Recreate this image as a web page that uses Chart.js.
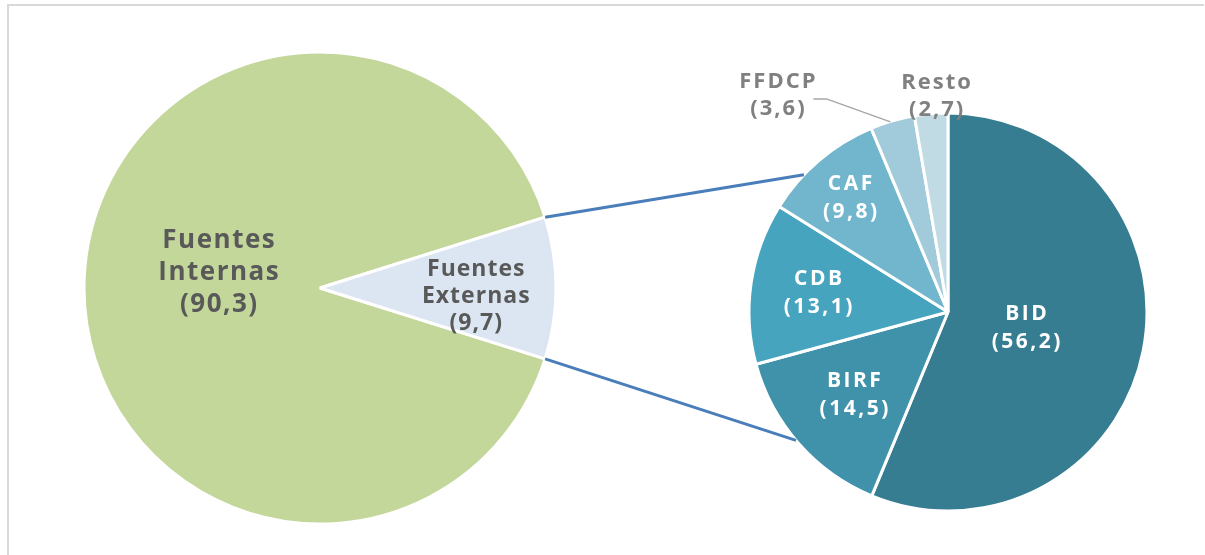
<!DOCTYPE html>
<html>
<head>
<meta charset="utf-8">
<script src="https://cdn.jsdelivr.net/npm/chart.js@4/dist/chart.umd.min.js"></script>
<style>
  html, body { margin: 0; padding: 0; background: #fff; }
  #wrap { position: relative; width: 1205px; height: 555px; overflow: hidden; }
  #marco { position: absolute; left: 7px; top: 4px; right: 1px; bottom: -5px;
           border-top: 2px solid #d9d9d9; border-left: 2px solid #d9d9d9; }
  canvas { position: absolute; left: 0; top: 0; }
</style>
</head>
<body>
<div id="wrap">
  <div id="marco"></div>
  <canvas id="pieFuentes" width="1205" height="555"></canvas>
  <canvas id="pieExternas" width="1205" height="555"></canvas>
</div>
<script>
// Fuentes de financiamiento (%)
const fuentesLabels = ["Fuentes Internas", "Fuentes Externas"];
const fuentesValores = [90.3, 9.7];
const fuentesColores = ["#c4d79b", "#dce6f2"];

// Desglose de fuentes externas (%)
const externasLabels = ["BID", "BIRF", "CDB", "CAF", "FFDCP", "Resto"];
const externasValores = [56.2, 14.5, 13.1, 9.8, 3.6, 2.7];
const externasColores = ["#367d91", "#4092aa", "#47a4bf", "#71b6cc", "#a1cadb", "#c1dbe5"];

const fmt = v => "(" + v.toFixed(1).replace(".", ",") + ")";

// rotación para que "Fuentes Externas" quede centrada a la derecha
const totalFuentes = fuentesValores.reduce((s, v) => s + v, 0);
const rotFuentes = 90 - 360 * (fuentesValores[0] + fuentesValores[1] / 2) / totalFuentes + 360;

// etiquetas: posición radial (fracción del radio), ajuste en px y tipografía
const fuentesEtiq = [
  { lines: ["Fuentes", "Internas", fmt(fuentesValores[0])], frac: 0.43, dx: 0, dy: -15,
    color: "#595959", size: 26, ls: 1.5, lh: 32 },
  { lines: ["Fuentes", "Externas", fmt(fuentesValores[1])], frac: 0.66, dx: 0, dy: 8,
    color: "#595959", size: 23, ls: 1, lh: 27 }
];
const blanco = { color: "#ffffff", size: 21, ls: 2.5, lh: 28 };
const gris = { color: "#808080", size: 22, ls: 2, lh: 27 };
const externasEtiq = [
  { lines: ["BID", fmt(externasValores[0])], frac: 0.4, dx: 0, dy: 0, ...blanco },
  { lines: ["BIRF", fmt(externasValores[1])], frac: 0.63, dx: 0, dy: 0, ...blanco },
  { lines: ["CDB", fmt(externasValores[2])], frac: 0.66, dx: 0, dy: 0, ...blanco },
  { lines: ["CAF", fmt(externasValores[3])], frac: 0.76, dx: 0, dy: 1, ...blanco },
  { lines: ["FFDCP", fmt(externasValores[4])], frac: 1.0, dx: -115, dy: -26, guia: true, ...gris },
  { lines: ["Resto", fmt(externasValores[5])], frac: 1.0, dx: 5, dy: -17, ...gris }
];

function etiquetasPlugin(etiq) {
  return {
    id: "etiquetas",
    afterDatasetsDraw(chart) {
      const ctx = chart.ctx;
      const arcs = chart.getDatasetMeta(0).data;
      ctx.save();
      ctx.textAlign = "center";
      ctx.textBaseline = "middle";
      arcs.forEach((arc, i) => {
        const e = etiq[i];
        const mid = (arc.startAngle + arc.endAngle) / 2;
        const ax = arc.x + Math.cos(mid) * arc.outerRadius * e.frac;
        const ay = arc.y + Math.sin(mid) * arc.outerRadius * e.frac;
        const x = ax + e.dx, y = ay + e.dy;
        if (e.guia) {
          ctx.strokeStyle = "#a6a6a6";
          ctx.lineWidth = 1.5;
          ctx.beginPath();
          ctx.moveTo(x + 36, y + 4);
          ctx.lineTo(x + 49, y + 4);
          ctx.lineTo(ax - 2, ay + 1);
          ctx.stroke();
        }
        ctx.font = "bold " + e.size + "px 'Open Sans', 'Noto Sans', sans-serif";
        ctx.letterSpacing = e.ls + "px";
        ctx.fillStyle = e.color;
        const y0 = y - (e.lines.length - 1) * e.lh / 2;
        e.lines.forEach((t, k) => ctx.fillText(t, x + e.ls / 2, y0 + k * e.lh));
      });
      ctx.restore();
    }
  };
}

// líneas de conexión entre ambos gráficos
const conexion = {
  id: "conexion",
  afterDatasetsDraw(chart) {
    const izq = chartFuentes.getDatasetMeta(0).data[1];
    const ctx = chart.ctx;
    const m = chart.getDatasetMeta(0).data[0];
    const angSup = -136.4 * Math.PI / 180, angInf = 139.8 * Math.PI / 180;
    ctx.save();
    ctx.strokeStyle = "#4a7ebb";
    ctx.lineWidth = 3;
    ctx.beginPath();
    ctx.moveTo(izq.x + Math.cos(izq.startAngle) * izq.outerRadius, izq.y + Math.sin(izq.startAngle) * izq.outerRadius);
    ctx.lineTo(m.x + Math.cos(angSup) * m.outerRadius, m.y + Math.sin(angSup) * m.outerRadius);
    ctx.moveTo(izq.x + Math.cos(izq.endAngle) * izq.outerRadius, izq.y + Math.sin(izq.endAngle) * izq.outerRadius);
    ctx.lineTo(m.x + Math.cos(angInf) * m.outerRadius, m.y + Math.sin(angInf) * m.outerRadius);
    ctx.stroke();
    ctx.restore();
  }
};

const comunes = {
  responsive: false,
  animation: false,
  events: [],
  plugins: { legend: { display: false }, tooltip: { enabled: false } }
};

const chartFuentes = new Chart(document.getElementById("pieFuentes").getContext("2d"), {
  type: "pie",
  data: {
    labels: fuentesLabels,
    datasets: [{
      data: fuentesValores,
      backgroundColor: fuentesColores,
      borderColor: "#ffffff",
      borderWidth: 3,
      hoverOffset: 0
    }]
  },
  options: {
    ...comunes,
    rotation: rotFuentes,
    radius: 236,
    layout: { padding: { left: 84, right: 649, top: 52, bottom: 31 } }
  },
  plugins: [etiquetasPlugin(fuentesEtiq)]
});

new Chart(document.getElementById("pieExternas").getContext("2d"), {
  type: "pie",
  data: {
    labels: externasLabels,
    datasets: [{
      data: externasValores,
      backgroundColor: externasColores,
      borderColor: "#ffffff",
      borderWidth: 3,
      hoverOffset: 0
    }]
  },
  options: {
    ...comunes,
    rotation: 0,
    radius: 199,
    layout: { padding: { left: 749, right: 58, top: 113, bottom: 44 } }
  },
  plugins: [conexion, etiquetasPlugin(externasEtiq)]
});
</script>
</body>
</html>
